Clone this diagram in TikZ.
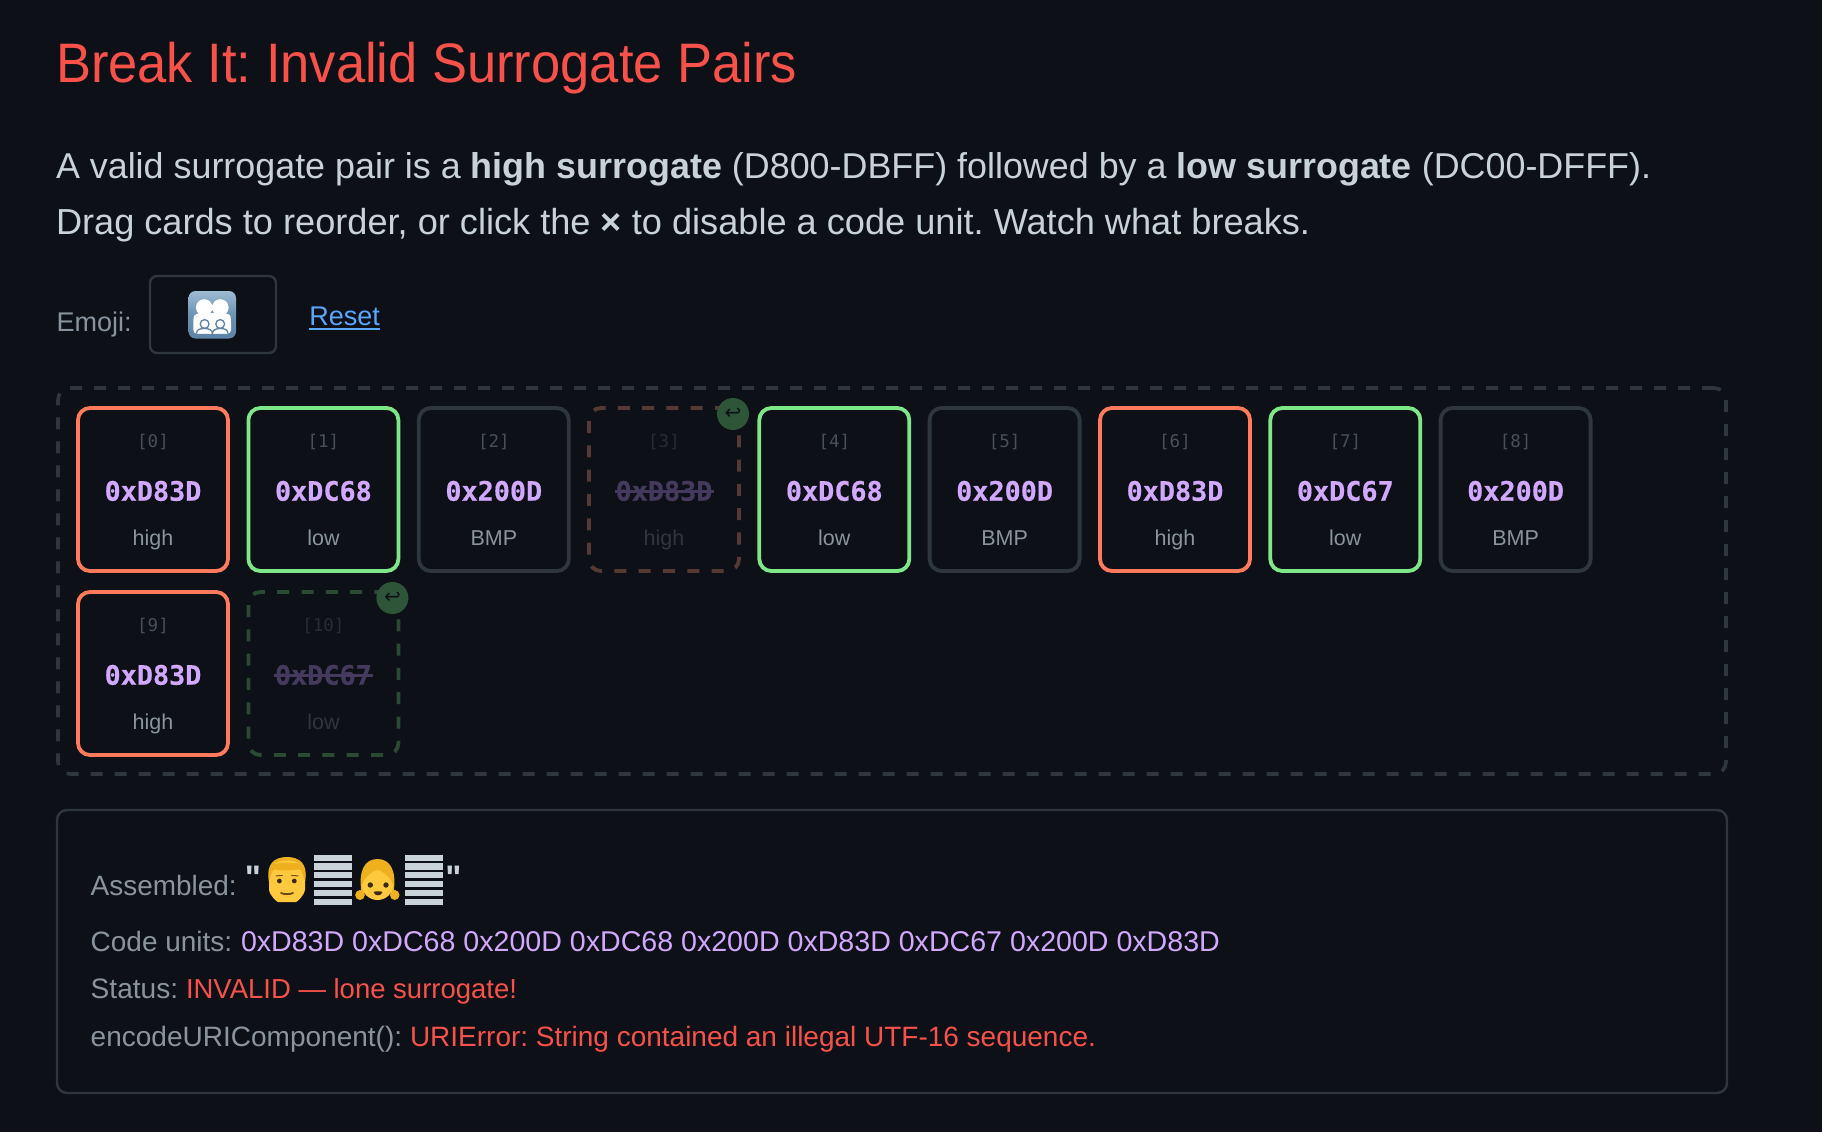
\documentclass[tikz,border=0pt]{standalone}
\usepackage{graphicx}
\usepackage{fontspec}
\setmainfont{Liberation Sans}
\setmonofont{DejaVu Sans Mono}
\newfontfamily\djv{DejaVu Sans}
\newfontfamily\plainq{Liberation Sans}
\newfontfamily\hexfont[FakeBold=0.5]{DejaVu Sans Mono Bold}
\frenchspacing
\definecolor{bgc}{HTML}{0D1117}
\definecolor{bordc}{HTML}{30363D}
\definecolor{bodyc}{HTML}{C9D1D9}
\definecolor{mutedc}{HTML}{8B949E}
\definecolor{redc}{HTML}{F85149}
\definecolor{purpc}{HTML}{D2A8FF}
\definecolor{linkc}{HTML}{58A6FF}
\definecolor{highc}{HTML}{FF7B5C}
\definecolor{lowc}{HTML}{7EE787}
\definecolor{idxc}{HTML}{484F58}
\definecolor{offhigh}{HTML}{553A33}
\definecolor{offlow}{HTML}{2B4A33}
\definecolor{offidx}{HTML}{272C33}
\definecolor{offhex}{HTML}{453A5E}
\definecolor{offlab}{HTML}{30343B}
\definecolor{restc}{HTML}{2E5537}
\definecolor{facec}{HTML}{FFC83D}
\definecolor{hairc}{HTML}{EFB020}
\definecolor{darkc}{HTML}{3A2A10}
\definecolor{iconc}{HTML}{6C93B3}
\definecolor{icont}{HTML}{9DBBD2}
\definecolor{iconb}{HTML}{5C83A5}
\newcommand{\fs}[1]{\fontsize{#1}{#1}\selectfont}
\newcommand{\fitw}[2]{\resizebox{#1pt}{!}{#2}}
\tikzset{
  x=1pt,y=-1pt,
  txt/.style={anchor=base west,inner sep=0pt,outer sep=0pt},
  mid/.style={anchor=base,inner sep=0pt,outer sep=0pt},
  card/.style={rectangle,rounded corners=12pt,minimum width=150pt,minimum height=163pt,inner sep=0pt,line width=3.8pt,fill=bgc},
  cardhigh/.style={card,draw=highc},
  cardlow/.style={card,draw=lowc},
  cardbmp/.style={card,draw=bordc},
  cardoffh/.style={card,draw=offhigh,dash pattern=on 12pt off 12.3pt},
  cardoffl/.style={card,draw=offlow,dash pattern=on 12pt off 12.3pt},
  idx/.style={mid,font=\ttfamily\fs{17.5},text=idxc},
  hexv/.style={mid,font=\hexfont\fs{26.8},text=purpc},
  lab/.style={mid,font=\fs{21.5},text=mutedc},
  restore/.style={circle,fill=restc,minimum size=32pt,inner sep=0pt},
  resticon/.style={inner sep=0pt,font=\djv\fs{20},text=bgc},
  tofu/.style={fill=bodyc},
  quotem/.style={anchor=base,inner sep=0pt,text=bodyc,font=\plainq\bfseries\fs{34}},
}
% name, centre x, centre y, index, hex, label, card style
\newcommand{\card}[7]{%
  \node[#7] (c#1) at (#2,#3-0.5) {};
  \node[idx] (c#1i) at (#2,#3+-43) {[#4]};
  \node[hexv] (c#1h) at (#2,#3+10.7) {#5};
  \node[lab] (c#1l) at (#2,#3+55.5) {#6};
}
\newcommand{\cardoff}[7]{%
  \node[#7] (c#1) at (#2,#3-0.5) {};
  \node[idx,text=offidx] (c#1i) at (#2,#3+-43) {[#4]};
  \node[hexv,text=offhex] (c#1h) at (#2,#3+10.7) {#5};
  \draw[offhex,line width=2.6pt] (c#1h.base west) ++(-1,-9) -- ++(99,0);
  \node[lab,text=offlab] (c#1l) at (#2,#3+55.5) {#6};
  \node[restore] (c#1r) at (#2+69,#3+-76) {};
  \node[resticon] (c#1a) at (c#1r) {↩};
}
\newcommand{\tofubars}[1]{%
  \foreach \k in {0,...,5} {\fill[tofu] (#1,854.7+8.77*\k) rectangle ++(38.5,6.1);}
}
\begin{document}
\begin{tikzpicture}
\useasboundingbox (0,0) rectangle (1822,1132);
\fill[bgc] (0,0) rectangle (1822,1132);
% heading and intro
\node[txt,text=redc] (title) at (56,82.7) {\scalebox{1}[1.06]{\fitw{741}{\fs{53}Break It: Invalid Surrogate Pairs}}};
\node[txt,text=bodyc] (p1) at (56,178) {\fitw{1595}{\fs{35}A valid surrogate pair is a \textbf{high surrogate} (D800-DBFF) followed by a \textbf{low surrogate} (DC00-DFFF).}};
\node[txt,text=bodyc] (p2) at (56,234) {\fitw{1254}{\fs{35}Drag cards to reorder, or click the \textbf{×} to disable a code unit. Watch what breaks.}};
% emoji row
\node[txt,text=mutedc,font=\fs{27}] (emojilab) at (56.5,331) {Emoji:};
\node[rectangle,draw=bordc,line width=2.4pt,rounded corners=7pt,minimum width=126pt,minimum height=77pt,inner sep=0pt] (emojibox) at (213,314.5) {};
\shade[top color=icont,bottom color=iconb,middle color=iconc,rounded corners=7pt] (188.5,291) rectangle (236,338.5);
% family icon: two adults behind two children
\fill[white] (204.2,307.5) circle (8.3) (220.3,307.5) circle (8.3);
\fill[white,rounded corners=3.5pt] (193.3,333.5) -- (193.3,320) .. controls (194,315) and (198,313) .. (204,313) -- (220.5,313) .. controls (227,313) and (230.3,315) .. (231,320) -- (231,333.5) -- cycle;
\draw[iconb,fill=white,line width=1.3pt] (204.6,324) circle (4.4) (220.2,324) circle (4.4);
\draw[iconb,fill=white,line width=1.3pt] (196.5,333.5) .. controls (196.5,329.5) and (200,328.5) .. (204.6,328.5) .. controls (209,328.5) and (212.4,330) .. (212.4,333.5) .. controls (212.4,330) and (216,328.5) .. (220.2,328.5) .. controls (224.5,328.5) and (228,329.5) .. (228,333.5);
\node[txt,text=linkc,font=\fs{27}] (reset) at (309.3,325) {Reset};
\draw[linkc,line width=2pt] (reset.base west) ++(0,3.6) -- ++(70.7,0);
% drop zone
\node[rectangle,draw=bordc,line width=3.6pt,rounded corners=12pt,dash pattern=on 12pt off 12pt,minimum width=1668pt,minimum height=386pt,inner sep=0pt] (zone) at (892,581) {};
% cards
\card{0}{153}{490}{0}{0xD83D}{high}{cardhigh}
\card{1}{323.4}{490}{1}{0xDC68}{low}{cardlow}
\card{2}{493.8}{490}{2}{0x200D}{BMP}{cardbmp}
\cardoff{3}{664}{490}{3}{0xD83D}{high}{cardoffh}
\card{4}{834.3}{490}{4}{0xDC68}{low}{cardlow}
\card{5}{1004.6}{490}{5}{0x200D}{BMP}{cardbmp}
\card{6}{1175}{490}{6}{0xD83D}{high}{cardhigh}
\card{7}{1345.3}{490}{7}{0xDC67}{low}{cardlow}
\card{8}{1515.6}{490}{8}{0x200D}{BMP}{cardbmp}
\card{9}{153}{674}{9}{0xD83D}{high}{cardhigh}
\cardoff{10}{323.4}{674}{10}{0xDC67}{low}{cardoffl}
% result panel
\node[rectangle,draw=bordc,line width=2.4pt,rounded corners=10pt,minimum width=1670pt,minimum height=283pt,inner sep=0pt] (panel) at (892,951.5) {};
\node[txt,text=mutedc] (asm) at (90.7,895) {\fitw{146}{\fs{27}Assembled:}};
\node[quotem] (qa) at (253,889) {"};
% man face
\fill[facec,rounded corners=9pt] (269,868) -- (305,868) -- (305,880) .. controls (305,895) and (297,902) .. (287,902) .. controls (277,902) and (269,895) .. (269,880) -- cycle;
\fill[hairc] (268.8,881) .. controls (266,864) and (274,857) .. (287,857) .. controls (300,857) and (308,864) .. (305.2,881) .. controls (303,877) and (303,873) .. (300.5,869) .. controls (292,871) and (280,871) .. (273.5,869) .. controls (271,873) and (271,877) .. (268.8,881) -- cycle;
\fill[facec] (274,864) .. controls (280,859.5) and (294,859.5) .. (300,864) .. controls (292,862) and (282,862) .. (274,864) -- cycle;
\fill[darkc] (279.4,881) circle (2.4) (294.3,881) circle (2.4);
\draw[darkc!70!hairc,line width=1pt,line cap=round] (276,875.8) -- (282.5,875.6) (291.5,875.6) -- (298,875.8);
\draw[darkc!75!hairc,line width=1.8pt,line cap=round] (281,893) .. controls (284,894.5) and (290,894.5) .. (293,893);
\tofubars{313.7}
% girl face
\fill[hairc] (360,895) ellipse (4.8 and 5) (394.7,895) ellipse (4.8 and 5);
\fill[hairc] (361.5,893) .. controls (358,870) and (365,859) .. (377.5,859) .. controls (390,859) and (397,870) .. (393.5,893) -- cycle;
\fill[facec] (377.5,885) ellipse (15.5 and 15);
\fill[hairc] (362,884) .. controls (362,872) and (370,869) .. (377.5,865) .. controls (385,869) and (393,872) .. (393,884) .. controls (390,877) and (384,872) .. (377.5,869.5) .. controls (371,872) and (365,877) .. (362,884) -- cycle;
\fill[darkc] (370.3,885) circle (2.7) (386,885) circle (2.7);
\fill[darkc] (373.5,892) .. controls (376,891) and (380,891) .. (382.5,892) .. controls (381,896.5) and (375,896.5) .. (373.5,892) -- cycle;
\tofubars{404.7}
\node[quotem] (qb) at (453.5,889) {"};
\node[txt,text=mutedc] (cu) at (90.7,951) {\fitw{141.5}{\fs{27}Code units:}};
\node[txt,text=purpc] (cuv) at (241,951) {\fitw{979}{\fs{27}0xD83D 0xDC68 0x200D 0xDC68 0x200D 0xD83D 0xDC67 0x200D 0xD83D}};
\node[txt,text=mutedc] (st) at (90.7,998) {\fitw{87.5}{\fs{27}Status:}};
\node[txt,text=redc] (stv) at (186,998) {\fitw{331}{\fs{27}INVALID — lone surrogate!}};
\node[txt,text=mutedc] (en) at (90.7,1046) {\fitw{311.5}{\fs{27}encodeURIComponent():}};
\node[txt,text=redc] (env) at (410,1046) {\fitw{686}{\fs{27}URIError: String contained an illegal UTF-16 sequence.}};
\end{tikzpicture}
\end{document}
